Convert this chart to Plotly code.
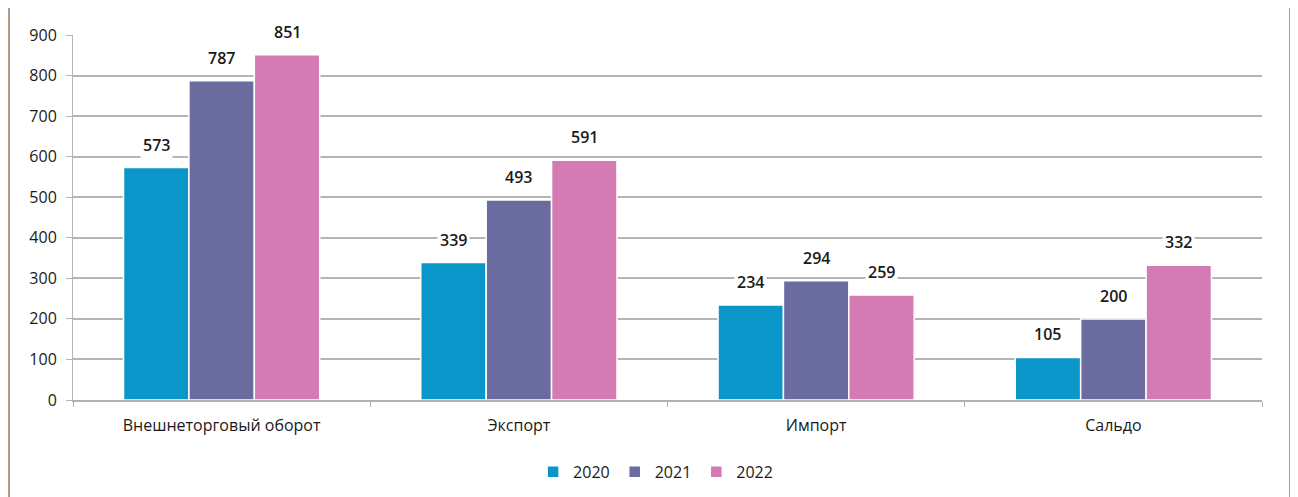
import plotly.graph_objects as go

categories = ["Внешнеторговый оборот", "Экспорт", "Импорт", "Сальдо"]
years = ["2020", "2021", "2022"]
values_2020 = [573, 339, 234, 105]
values_2021 = [787, 493, 294, 200]
values_2022 = [851, 591, 259, 332]
colors = ["#0a96c8", "#6a6b9f", "#d47bb4"]
y_ticks = [0, 100, 200, 300, 400, 500, 600, 700, 800, 900]

# the page has an 8px body margin, so figure coords = page coords - 8
W, H = 1298, 497
ML, MR, MT, MB = 65, 44, 27, 105
BARGAP = 0.34

series = [values_2020, values_2021, values_2022]
fig = go.Figure()
for name, vals, col in zip(years, series, colors):
    fig.add_trace(go.Bar(
        x=categories, y=vals, name=name,
        marker=dict(color=col, line=dict(color="white", width=1.5)),
    ))

font_family = "Open Sans, Noto Sans, DejaVu Sans, sans-serif"
plot_w = W - ML - MR
plot_h = H - MT - MB
cat_px = plot_w / len(categories)
slot_px = cat_px * (1 - BARGAP) / len(years)
for i, vals in enumerate(series):
    for c, v in zip(categories, vals):
        fig.add_annotation(
            x=c, y=v, xref="x", yref="y", text=str(v), showarrow=False,
            xshift=(i - 1) * slot_px, yshift=23, bgcolor="white",
            font=dict(size=16, color="#1a1a1a", family=font_family, weight=600),
            borderpad=2,
        )

fig.update_layout(
    width=W, height=H,
    margin=dict(l=ML, r=MR, t=MT, b=MB, autoexpand=False),
    paper_bgcolor="white", plot_bgcolor="white",
    barmode="group", bargap=BARGAP, bargroupgap=0.0,
    font=dict(family=font_family, size=15, color="#1a1a1a"),
    showlegend=True,
    legend=dict(orientation="h", x=0.49, xanchor="center", y=-0.15, yanchor="top",
                font=dict(size=16, color="#1a1a1a", weight=500), itemwidth=30,
                traceorder="normal"),
    xaxis=dict(type="category", showgrid=False, ticks="outside", tickson="boundaries",
               ticklen=5, tickcolor="#b0b0b0", showline=True, linecolor="#b0b0b0",
               linewidth=2, tickfont=dict(size=16, weight=500), ticklabelstandoff=10),
    yaxis=dict(range=[0, 900], tickvals=y_ticks, showgrid=True, gridcolor="#b5b5b5",
               gridwidth=2, zeroline=False, showline=True, linecolor="#b5b5b5",
               linewidth=1, ticks="outside", ticklen=6, tickcolor="#b5b5b5",
               tickfont=dict(size=16, weight=500), ticklabelstandoff=6),
    shapes=[
        dict(type="line", xref="paper", yref="paper",
             x0=(1 - ML) / plot_w, x1=(1 - ML) / plot_w,
             y0=(H - MB) / plot_h, y1=-MB / plot_h,
             line=dict(color="#b39c86", width=2)),
        dict(type="line", xref="paper", yref="paper",
             x0=(1282 - ML) / plot_w, x1=(1282 - ML) / plot_w,
             y0=(H - MB) / plot_h, y1=-MB / plot_h,
             line=dict(color="#b39c86", width=2)),
    ],
)

fig.write_html("out.html")
